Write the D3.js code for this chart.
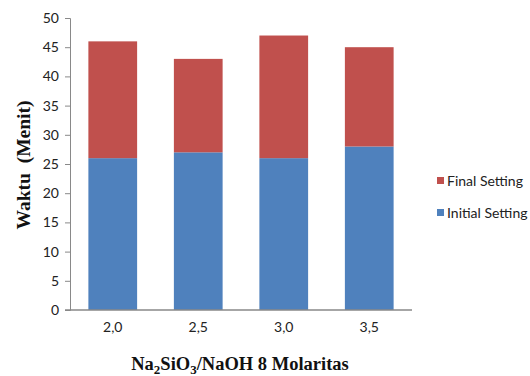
<!DOCTYPE html>
<html>
<head>
<meta charset="utf-8">
<script src="https://cdn.jsdelivr.net/npm/d3@7"></script>
<style>
  html, body { margin: 0; padding: 0; background: #fff; }
  svg { display: block; }
</style>
</head>
<body>
<svg id="chart" width="530" height="376"></svg>
<script>
// Setting time (minutes) per Na2SiO3/NaOH ratio
const categories = ["2,0", "2,5", "3,0", "3,5"];
const initialSetting = [26, 27, 26, 28];
const finalSetting = [20, 16, 21, 17];
const seriesNames = ["Initial Setting", "Final Setting"];
const yTicks = [0, 5, 10, 15, 20, 25, 30, 35, 40, 45, 50];

const colors = { "Initial Setting": "#4F81BD", "Final Setting": "#C0504D" };

const svg = d3.select("#chart");
const plot = { left: 70, right: 412, top: 18, bottom: 310 };

const rows = categories.map((c, i) => ({
  cat: c,
  "Initial Setting": initialSetting[i],
  "Final Setting": finalSetting[i]
}));
const stacked = d3.stack().keys(seriesNames)(rows);

const x = d3.scaleBand().domain(categories).range([plot.left, plot.right]).paddingInner(0.43).paddingOuter(0.215);
const y = d3.scaleLinear().domain([0, 50]).range([plot.bottom, plot.top]);

const tickFont = "Lato, 'Open Sans', sans-serif";

// Y axis
const yAxis = svg.append("g")
  .attr("transform", `translate(${plot.left},0)`)
  .call(d3.axisLeft(y).tickValues(yTicks).tickSize(5).tickPadding(6));
yAxis.select(".domain").attr("stroke", "#898989");
yAxis.selectAll(".tick line").attr("stroke", "#898989");
yAxis.selectAll(".tick text")
  .attr("font-family", tickFont).attr("font-size", 14).attr("fill", "#222");

// Bars
svg.append("g").selectAll("g")
  .data(stacked).join("g")
  .attr("fill", d => colors[d.key])
  .selectAll("rect")
  .data(d => d).join("rect")
  .attr("x", d => x(d.data.cat))
  .attr("width", x.bandwidth())
  .attr("y", d => y(d[1]))
  .attr("height", d => y(d[0]) - y(d[1]));

// X axis
const xAxis = svg.append("g")
  .attr("transform", `translate(0,${plot.bottom})`)
  .call(d3.axisBottom(x).tickSize(0).tickPadding(12));
xAxis.select(".domain").attr("d", `M${plot.left - 5},0H${plot.right}`).attr("stroke", "#898989").attr("stroke-width", 1.5);
xAxis.selectAll(".tick text")
  .attr("font-family", tickFont).attr("font-size", 14).attr("fill", "#222");

// Axis titles
const xTitle = svg.append("text")
  .attr("x", 240).attr("y", 370)
  .attr("text-anchor", "middle")
  .attr("font-family", "'Liberation Serif', 'Times New Roman', serif")
  .attr("font-weight", "bold").attr("font-size", 18.5).attr("fill", "#111");
xTitle.append("tspan").text("Na");
xTitle.append("tspan").attr("dy", 4).attr("font-size", 13).text("2");
xTitle.append("tspan").attr("dy", -4).text("SiO");
xTitle.append("tspan").attr("dy", 4).attr("font-size", 13).text("3");
xTitle.append("tspan").attr("dy", -4).text("/NaOH 8 Molaritas");

svg.append("text")
  .attr("transform", "translate(30,165) rotate(-90)")
  .attr("text-anchor", "middle")
  .attr("font-family", "'Liberation Serif', 'Times New Roman', serif")
  .attr("font-weight", "bold").attr("font-size", 19.5).attr("fill", "#111")
  .attr("xml:space", "preserve")
  .text("Waktu  (Menit)");

// Legend
const legendItems = ["Final Setting", "Initial Setting"];
const legend = svg.append("g").selectAll("g")
  .data(legendItems).join("g")
  .attr("transform", (d, i) => `translate(437,${181 + i * 32})`);
legend.append("rect")
  .attr("x", 0).attr("y", -4).attr("width", 7).attr("height", 7)
  .attr("fill", d => colors[d]);
legend.append("text")
  .attr("x", 10).attr("y", 0).attr("dy", "0.35em")
  .attr("font-family", tickFont).attr("font-size", 14).attr("fill", "#222")
  .text(d => d);
</script>
</body>
</html>
